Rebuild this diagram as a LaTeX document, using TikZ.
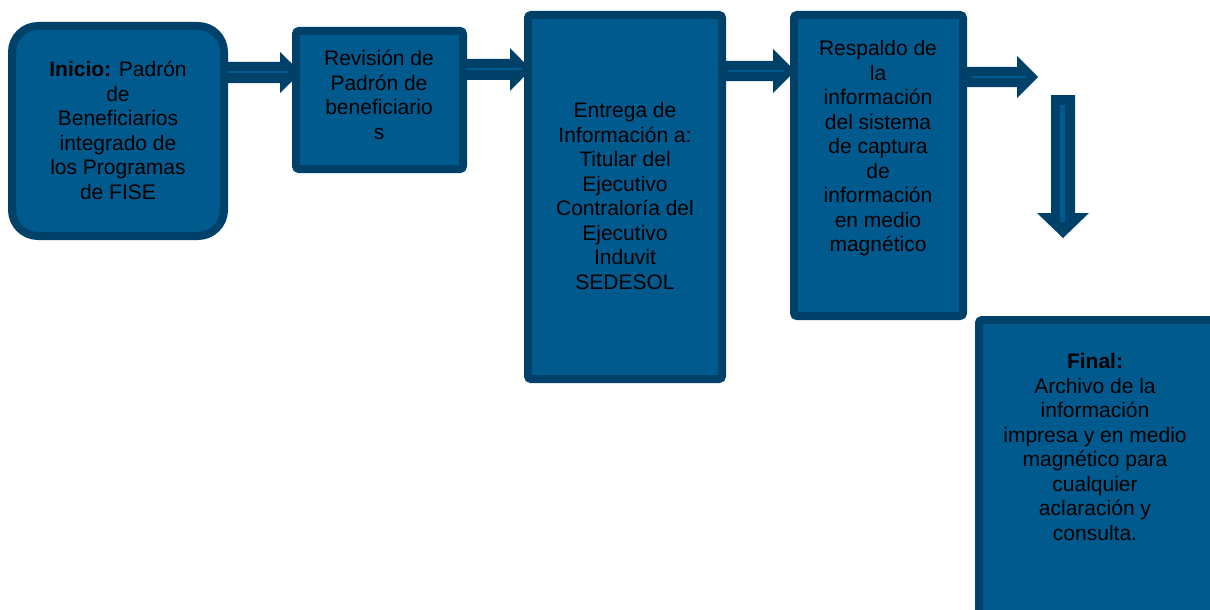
\documentclass[tikz,border=0pt]{standalone}
\usepackage{fontspec}
\setmainfont{Liberation Sans}
\definecolor{boxfill}{RGB}{0,90,142}
\definecolor{boxline}{RGB}{0,65,105}
\begin{document}
\begin{tikzpicture}[x=1pt,y=-1pt,
  box/.style={draw=boxline,fill=boxfill,line width=8pt,rounded corners=3pt},
  arr/.style={fill=boxline,draw=none},
  core/.style={draw=boxfill,line width=2pt},
  txt/.style={align=center,text=black,inner sep=0pt,font=\fontsize{21}{24.5}\selectfont}]
\useasboundingbox (0,0) rectangle (1210,610);
\clip (0,0) rectangle (1210,610);
% arrows (under boxes)
\path[arr] (224,62) -- (280,62) -- (280,52) -- (301,72.5) -- (280,93) -- (280,83) -- (224,83) -- cycle;
\draw[core] (228,72.5) -- (288,72.5);
\path[arr] (463,59) -- (510,59) -- (510,48) -- (531,69.5) -- (510,91) -- (510,80) -- (463,80) -- cycle;
\draw[core] (467,69.5) -- (522,69.5);
\path[arr] (722,61) -- (773,61) -- (773,49) -- (795,71) -- (773,93) -- (773,81) -- (722,81) -- cycle;
\draw[core] (728,71) -- (784,71);
\path[arr] (963,67) -- (1017,67) -- (1017,56) -- (1038,77) -- (1017,98) -- (1017,87) -- (963,87) -- cycle;
\draw[core] (972,77) -- (1026,77);
\path[arr] (1051,95) -- (1075,95) -- (1075,213) -- (1089,213) -- (1063,238) -- (1037,213) -- (1051,213) -- cycle;
\draw[draw=boxfill,line width=5pt] (1062.5,105) -- (1062.5,222);
% boxes
\draw[box,rounded corners=26pt] (12,26) rectangle (224,236);
\draw[box] (296,31) rectangle (463,169);
\draw[box] (528,15) rectangle (722,379);
\draw[box] (794,15) rectangle (963,316);
\draw[box] (979,320) rectangle (1240,640);
% texts
\node[txt] (t1) at (118,130.5) {\textbf{Inicio:} Padrón\\de\\Beneficiarios\\integrado de\\los Programas\\de FISE};
\node[txt] (t2) at (379,95) {Revisión de\\Padrón de\\beneficiario\\s};
\node[txt] (t3) at (625,196) {Entrega de\\Información a:\\Titular del\\Ejecutivo\\Contraloría del\\Ejecutivo\\Induvit\\SEDESOL};
\node[txt] (t4) at (878,148.5) {Respaldo de\\la\\información\\del sistema\\de captura\\de\\información\\en medio\\magnético};
\node[txt] (t5) at (1095,447) {\textbf{Final:}\\Archivo de la\\información\\impresa y en medio\\magnético para\\cualquier\\aclaración y\\consulta.};
\end{tikzpicture}
\end{document}
